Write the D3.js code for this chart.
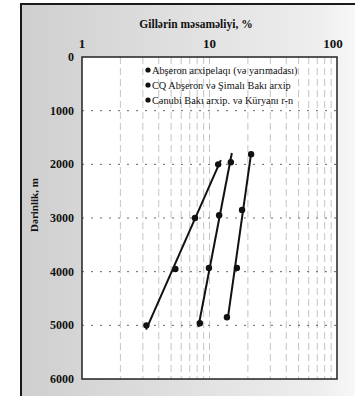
<!DOCTYPE html>
<html>
<head>
<meta charset="utf-8">
<script src="https://cdn.jsdelivr.net/npm/d3@7"></script>
<style>
  html, body { margin: 0; padding: 0; background: #fff; }
  svg { display: block; }
  text { font-family: "Liberation Serif", "DejaVu Serif", serif; fill: #111; }
</style>
</head>
<body>
<div id="chart"></div>
<script>
// porosity (%) vs depth (m)
const seriesNames = [
  'Abşeron arxipelaqı (və yarımadası)',
  'CQ Abşeron və Şimalı Bakı arxip',
  'Cənubi Bakı arxip. və Küryanı r-n'
];
const depths1 = [2000, 3000, 3950, 5000];
const poro1 = [11.7, 7.7, 5.4, 3.2];
const depths2 = [1960, 2950, 3930, 4960];
const poro2 = [14.7, 11.9, 9.9, 8.4];
const depths3 = [1810, 2850, 3930, 4850];
const poro3 = [21.2, 18.0, 16.4, 13.7];
// depth range covered by each trend line
const trendRange = [[1920, 5080], [1790, 5030], [1800, 4850]];

const xTicks = [1, 10, 100];
const yTicks = [0, 1000, 2000, 3000, 4000, 5000, 6000];
const gridDepths = [1000, 2000, 3000, 4000, 5000];

const W = 355, H = 396;
const margin = { left: 82, top: 57, right: 18, bottom: 17 };

const svg = d3.select('#chart').append('svg')
  .attr('width', W)
  .attr('height', H);

const defs = svg.append('defs');
const grad = defs.append('linearGradient')
  .attr('id', 'bg')
  .attr('x1', '0').attr('y1', '0')
  .attr('x2', '1').attr('y2', '0');
grad.append('stop').attr('offset', '0').attr('stop-color', '#cfcfcf');
grad.append('stop').attr('offset', '0.55').attr('stop-color', '#e2e2e2');
grad.append('stop').attr('offset', '0.9').attr('stop-color', '#eeeeee');
grad.append('stop').attr('offset', '1').attr('stop-color', '#f8f8f8');

// scanned frame
svg.append('rect')
  .attr('x', 21).attr('y', 4)
  .attr('width', W - 21).attr('height', H - 4)
  .attr('fill', 'url(#bg)');
svg.append('path')
  .attr('d', `M21,${H} V4 H${W}`)
  .attr('fill', 'none')
  .attr('stroke', '#1a1a1a')
  .attr('stroke-width', 2);

const x = d3.scaleLog()
  .domain([1, 100])
  .range([margin.left, W - margin.right]);
const y = d3.scaleLinear()
  .domain([0, 6000])
  .range([margin.top, H - margin.bottom]);

// plot area
svg.append('rect')
  .attr('x', x(1)).attr('y', y(0))
  .attr('width', x(100) - x(1))
  .attr('height', y(6000) - y(0))
  .attr('fill', '#fff');

// vertical log grid
const minor = [];
[1, 10].forEach(dec => {
  for (let k = 2; k <= 10; k++) minor.push(dec * k);
});
svg.append('g')
  .selectAll('line')
  .data(minor.filter(v => v < 100))
  .enter()
  .append('line')
  .attr('x1', d => x(d)).attr('x2', d => x(d))
  .attr('y1', y(0)).attr('y2', y(6000))
  .attr('stroke', '#c4c4c4')
  .attr('stroke-width', 1)
  .attr('stroke-dasharray', '7,4');

// horizontal grid
svg.append('g')
  .selectAll('line')
  .data(gridDepths)
  .enter()
  .append('line')
  .attr('x1', x(1)).attr('x2', x(100))
  .attr('y1', d => y(d)).attr('y2', d => y(d))
  .attr('stroke', '#666')
  .attr('stroke-width', 1)
  .attr('stroke-dasharray', '2,7');

svg.append('rect')
  .attr('x', x(1)).attr('y', y(0))
  .attr('width', x(100) - x(1))
  .attr('height', y(6000) - y(0))
  .attr('fill', 'none')
  .attr('stroke', '#222')
  .attr('stroke-width', 1.5);

// axis labels
svg.append('g')
  .selectAll('text')
  .data(xTicks)
  .enter()
  .append('text')
  .attr('x', d => x(d) - (d === 100 ? 4 : 0))
  .attr('y', 48)
  .attr('text-anchor', 'middle')
  .style('font-size', '13px')
  .style('font-weight', 'bold')
  .text(d => d);

svg.append('g')
  .selectAll('text')
  .data(yTicks)
  .enter()
  .append('text')
  .attr('x', 74)
  .attr('y', d => y(d) + 4)
  .attr('text-anchor', 'end')
  .style('font-size', '12px')
  .style('font-weight', 'bold')
  .text(d => d);

svg.append('text')
  .attr('x', 196)
  .attr('y', 28)
  .attr('text-anchor', 'middle')
  .style('font-size', '11.5px')
  .style('font-weight', 'bold')
  .text('Gillərin məsaməliyi, %');

svg.append('text')
  .attr('transform', 'translate(38,205) rotate(-90)')
  .attr('text-anchor', 'middle')
  .style('font-size', '11px')
  .style('font-weight', 'bold')
  .text('Dərinlik, m');

// series
const series = [
  { depths: depths1, poro: poro1 },
  { depths: depths2, poro: poro2 },
  { depths: depths3, poro: poro3 }
];

// least squares fit of log10(porosity) against depth
function fit(ds, ps) {
  const lp = ps.map(p => Math.log10(p));
  const md = d3.mean(ds), mp = d3.mean(lp);
  let num = 0, den = 0;
  ds.forEach((d, i) => { num += (d - md) * (lp[i] - mp); den += (d - md) ** 2; });
  const b = num / den;
  return d => Math.pow(10, mp + b * (d - md));
}

const line = d3.line()
  .x(d => x(d.p))
  .y(d => y(d.d));

series.forEach((s, i) => {
  const f = fit(s.depths, s.poro);
  const ends = trendRange[i].map(d => ({ d: d, p: f(d) }));
  svg.append('path')
    .datum(ends)
    .attr('d', line)
    .attr('fill', 'none')
    .attr('stroke', '#111')
    .attr('stroke-width', 2);

  svg.append('g')
    .selectAll('circle')
    .data(s.depths.map((d, j) => ({ d: d, p: s.poro[j] })))
    .enter()
    .append('circle')
    .attr('cx', d => x(d.p))
    .attr('cy', d => y(d.d))
    .attr('r', 3.2)
    .attr('fill', '#111');
});

// legend
const legend = svg.append('g');
legend.selectAll('circle')
  .data(seriesNames)
  .enter()
  .append('circle')
  .attr('cx', 148)
  .attr('cy', (d, i) => 70 + i * 15)
  .attr('r', 2.6)
  .attr('fill', '#111');
legend.selectAll('text')
  .data(seriesNames)
  .enter()
  .append('text')
  .attr('x', 152)
  .attr('y', (d, i) => 73.5 + i * 15)
  .style('font-size', '10.3px')
  .text(d => d);
</script>
</body>
</html>
